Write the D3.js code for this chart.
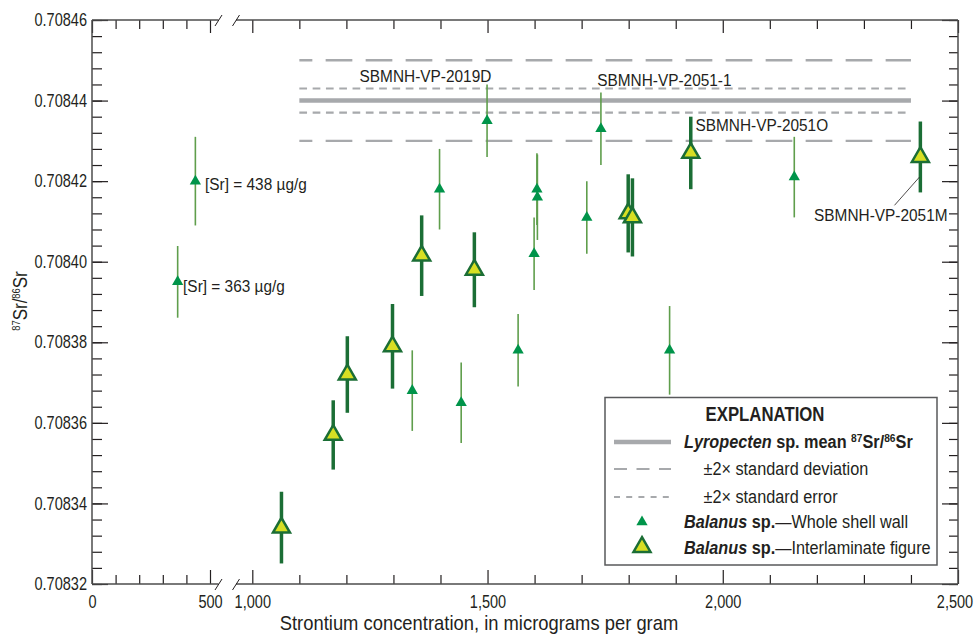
<!DOCTYPE html>
<html>
<head>
<meta charset="utf-8">
<script src="https://cdn.jsdelivr.net/npm/d3@7"></script>
<style>
  body { margin: 0; background: #fff; }
  svg text { font-family: "Liberation Sans", Arial, sans-serif; fill: #231f20; }
</style>
</head>
<body>
<script>
// Balanus sp. -- whole shell wall
var whole_sr    = [363, 438, 1340, 1398, 1444, 1499, 1565, 1599, 1605, 1606, 1711, 1741, 1887, 2152]
var whole_ratio = [0.708395, 0.708420, 0.708368, 0.708418, 0.708365, 0.708435, 0.708378, 0.708402, 0.708418, 0.708416, 0.708411, 0.708433, 0.708378, 0.708421]
var whole_err   = [0.0000089, 0.000011, 0.00001, 0.00001, 0.00001, 0.000009, 0.000009, 0.000009, 0.0000089, 0.0000106, 0.000009, 0.000009, 0.000011, 0.00001]

// Balanus sp. -- interlaminate figure
var inter_sr    = [1062, 1172, 1202, 1298, 1360, 1472, 1799, 1808, 1932, 2420]
var inter_ratio = [0.708334, 0.708357, 0.708372, 0.708379, 0.7084015, 0.708398, 0.708412, 0.708411, 0.708427, 0.708426]
var inter_err   = [0.0000089, 0.0000086, 0.0000095, 0.0000105, 0.00001, 0.0000093, 0.0000097, 0.0000097, 0.000009, 0.0000088]

// Lyropecten sp. mean and spread
var lyro_mean = 0.70844, lyro_sd2 = 0.00001, lyro_se2 = 0.000003
var lyro_span = [1100, 2400]

// axis ticks
var y_ticks = [0.70832, 0.70834, 0.70836, 0.70838, 0.70840, 0.70842, 0.70844, 0.70846]
var x_ticks_left = [0, 500]
var x_ticks_right = [1000, 1500, 2000, 2500]

// sample labels (text, sr, ratio, anchor)
var sample_labels = [
	['SBMNH-VP-2019D', 1368, 0.7084447, 'middle'],
	['SBMNH-VP-2051-1', 1733, 0.7084437, 'start'],
	['SBMNH-VP-2051O', 1942, 0.7084325, 'start'],
	['SBMNH-VP-2051M', 2194, 0.7084100, 'start'],
	['[Sr] = 438 \u00b5g/g', 479, 0.7084178, 'start'],
	['[Sr] = 363 \u00b5g/g', 386, 0.7083926, 'start']
]

var svg = d3.select('body').append('svg').attr('width', 975).attr('height', 637)

var xl = d3.scaleLinear().domain([0, 500]).range([92, 210])
var xr = d3.scaleLinear().domain([1000, 2500]).range([252.3, 958])
var xs = function (v) { return v <= 500 ? xl(v) : xr(v) }
var y = d3.scaleLinear().domain([0.70832, 0.70846]).range([584, 20])

var ink = '#231f20', frame = '#4d4d4d'
var gray = '#a7a9ac'
var dark_green = '#1b6e35', light_green = '#5f9e4c', tri_green = '#00944a', tri_yellow = '#d7df23'

// condensed text: regular font squeezed horizontally
function ctext(parent, x, y, size, k) {
	return parent.append('text').attr('transform', 'translate(' + x + ',' + y + ') scale(' + k + ',1)').attr('font-size', size)
}

// minor tick values
var y_minor = d3.range(0, 36).map(i => +(0.70832 + i * 0.000004).toFixed(6))
var xl_minor = [100, 200, 300, 400]
var xr_minor = d3.range(1100, 2500, 100).filter(v => v % 500 != 0)

function strip(g) { g.select('.domain').remove(); g.selectAll('line').attr('stroke', ink).attr('stroke-width', 1.2) }
var tk = 0.83

// left axis
svg.append('g').attr('transform', 'translate(92,0)')
	.call(d3.axisLeft(y).tickValues(y_minor).tickSizeInner(-10).tickSizeOuter(0).tickFormat(''))
	.call(strip)
svg.append('g').attr('transform', 'translate(92,0)')
	.call(d3.axisLeft(y).tickValues(y_ticks).tickSizeInner(-16).tickSizeOuter(0).tickPadding(5).tickFormat(d3.format('.5f')))
	.call(strip)
	.selectAll('text').attr('font-size', 17.5).attr('fill', ink).attr('font-family', null)
		.attr('x', -5 / tk).attr('transform', 'scale(' + tk + ',1)')

// right axis
svg.append('g').attr('transform', 'translate(958,0)')
	.call(d3.axisRight(y).tickValues(y_minor).tickSizeInner(-9).tickSizeOuter(0).tickFormat(''))
	.call(strip)
svg.append('g').attr('transform', 'translate(958,0)')
	.call(d3.axisRight(y).tickValues(y_ticks).tickSizeInner(-16).tickSizeOuter(0).tickFormat(''))
	.call(strip)

// bottom and top axes, both sections
;[[xl, xl_minor, x_ticks_left], [xr, xr_minor, x_ticks_right]].forEach(s => {
	svg.append('g').attr('transform', 'translate(0,584)')
		.call(d3.axisBottom(s[0]).tickValues(s[1]).tickSizeInner(-9).tickSizeOuter(0).tickFormat(''))
		.call(strip)
	svg.append('g').attr('transform', 'translate(0,584)')
		.call(d3.axisBottom(s[0]).tickValues(s[2]).tickSizeInner(-14).tickSizeOuter(0).tickPadding(12).tickFormat(d3.format(',')))
		.call(strip)
		.selectAll('text').attr('font-size', 17.5).attr('fill', ink).attr('font-family', null)
			.attr('transform', 'scale(' + tk + ',1)')
			// keep the last label inside the page edge
			.attr('dx', d => d == 2500 ? -3.5 / tk : 0)
	svg.append('g').attr('transform', 'translate(0,20)')
		.call(d3.axisTop(s[0]).tickValues(s[1]).tickSizeInner(-9).tickSizeOuter(0).tickFormat(''))
		.call(strip)
	svg.append('g').attr('transform', 'translate(0,20)')
		.call(d3.axisTop(s[0]).tickValues(s[2]).tickSizeInner(-13).tickSizeOuter(0).tickFormat(''))
		.call(strip)
})

// frame with the axis break
var fr = svg.append('g').attr('stroke', frame).attr('stroke-width', 1.5).attr('fill', 'none')
fr.append('line').attr('x1', 92).attr('x2', 92).attr('y1', 20).attr('y2', 584)
fr.append('line').attr('x1', 958).attr('x2', 958).attr('y1', 20).attr('y2', 584)
;[20, 584].forEach(yy => {
	fr.append('line').attr('x1', 92).attr('x2', 218.5).attr('y1', yy).attr('y2', yy)
	fr.append('line').attr('x1', 236).attr('x2', 958).attr('y1', yy).attr('y2', yy)
	fr.append('line').attr('x1', 215).attr('x2', 222).attr('y1', yy + 6).attr('y2', yy - 5).attr('stroke', ink).attr('stroke-width', 1)
	fr.append('line').attr('x1', 232.5).attr('x2', 239.5).attr('y1', yy + 6).attr('y2', yy - 5).attr('stroke', ink).attr('stroke-width', 1)
})

// Lyropecten lines
var lyro = svg.append('g').attr('stroke', gray).attr('fill', 'none')
lyro.append('line').attr('x1', xr(lyro_span[0])).attr('x2', xr(lyro_span[1]))
	.attr('y1', y(lyro_mean)).attr('y2', y(lyro_mean)).attr('stroke-width', 4.5)
;[lyro_mean + lyro_sd2, lyro_mean - lyro_sd2].forEach(v => {
	lyro.append('line').attr('x1', xr(lyro_span[0])).attr('x2', xr(lyro_span[1]))
		.attr('y1', y(v)).attr('y2', y(v)).attr('stroke-width', 2.4)
		.attr('stroke-dasharray', '26.7,13.3').attr('stroke-dashoffset', 13.7)
})
;[lyro_mean + lyro_se2, lyro_mean - lyro_se2].forEach(v => {
	lyro.append('line').attr('x1', xr(lyro_span[0])).attr('x2', xr(lyro_span[1]))
		.attr('y1', y(v)).attr('y2', y(v)).attr('stroke-width', 2.2)
		.attr('stroke-dasharray', '7.7,5.6')
})

var whole = whole_sr.map((d, i) => ({sr: d, r: whole_ratio[i], e: whole_err[i]}))
var inter = inter_sr.map((d, i) => ({sr: d, r: inter_ratio[i], e: inter_err[i]}))

// whole shell wall points
svg.append('g').selectAll('line').data(whole).enter().append('line')
	.attr('x1', d => xs(d.sr)).attr('x2', d => xs(d.sr))
	.attr('y1', d => y(d.r + d.e)).attr('y2', d => y(d.r - d.e))
	.attr('stroke', light_green).attr('stroke-width', 1.6)
svg.append('g').selectAll('path').data(whole).enter().append('path')
	.attr('d', d3.symbol(d3.symbolTriangle, 55))
	.attr('transform', d => 'translate(' + xs(d.sr) + ',' + y(d.r) + ')')
	.attr('fill', tri_green)

// interlaminate points
svg.append('g').selectAll('line').data(inter).enter().append('line')
	.attr('x1', d => xs(d.sr)).attr('x2', d => xs(d.sr))
	.attr('y1', d => y(d.r + d.e)).attr('y2', d => y(d.r - d.e))
	.attr('stroke', dark_green).attr('stroke-width', 3.5)
svg.append('g').selectAll('path').data(inter).enter().append('path')
	.attr('d', d3.symbol(d3.symbolTriangle, 125))
	.attr('transform', d => 'translate(' + xs(d.sr) + ',' + y(d.r) + ')')
	.attr('fill', tri_yellow).attr('stroke', dark_green).attr('stroke-width', 2.5).attr('stroke-linejoin', 'miter')

// sample labels
var lab = svg.append('g')
sample_labels.forEach(d => {
	ctext(lab, xs(d[1]), y(d[2]), 17, 0.906).attr('text-anchor', d[3]).text(d[0])
})
svg.append('line').attr('x1', xr(2365)).attr('y1', y(0.708414)).attr('x2', xr(2418)).attr('y2', y(0.708421))
	.attr('stroke', ink).attr('stroke-width', 0.8)

// axis titles
ctext(svg, 479, 630, 20, 0.92).attr('text-anchor', 'middle')
	.text('Strontium concentration, in micrograms per gram')
var yt = svg.append('text').attr('transform', 'translate(27,301) rotate(-90) scale(0.85,1)').attr('text-anchor', 'middle').attr('font-size', 20)
yt.append('tspan').attr('font-size', 11).attr('dy', -7).text('87')
yt.append('tspan').attr('dy', 7).text('Sr/')
yt.append('tspan').attr('font-size', 11).attr('dy', -7).text('86')
yt.append('tspan').attr('dy', 7).text('Sr')

// explanation box
var lg = svg.append('g')
lg.append('rect').attr('x', 605).attr('y', 397.5).attr('width', 332).attr('height', 167.5)
	.attr('fill', '#fff').attr('stroke', '#58595b').attr('stroke-width', 1.5)
ctext(lg, 765, 421, 19.5, 0.86).attr('text-anchor', 'middle').attr('font-weight', 'bold').text('EXPLANATION')
lg.append('line').attr('x1', 614).attr('x2', 671).attr('y1', 442).attr('y2', 442).attr('stroke', gray).attr('stroke-width', 4.5)
lg.append('line').attr('x1', 614).attr('x2', 671).attr('y1', 469).attr('y2', 469).attr('stroke', gray).attr('stroke-width', 2.2).attr('stroke-dasharray', '13,9.5')
lg.append('line').attr('x1', 614).attr('x2', 671).attr('y1', 497).attr('y2', 497).attr('stroke', gray).attr('stroke-width', 2.2).attr('stroke-dasharray', '6,6.2')
lg.append('path').attr('d', d3.symbol(d3.symbolTriangle, 55)).attr('transform', 'translate(642,522)').attr('fill', tri_green)
lg.append('path').attr('d', d3.symbol(d3.symbolTriangle, 125)).attr('transform', 'translate(642,547)')
	.attr('fill', tri_yellow).attr('stroke', dark_green).attr('stroke-width', 2.5)

var lk = 0.93
var t1 = ctext(lg, 684, 448, 17.5, lk).attr('font-weight', 'bold')
t1.append('tspan').attr('font-style', 'italic').text('Lyropecten')
t1.append('tspan').text(' sp. mean ')
t1.append('tspan').attr('font-size', 11).attr('dy', -6).text('87')
t1.append('tspan').attr('dy', 6).text('Sr/')
t1.append('tspan').attr('font-size', 11).attr('dy', -6).text('86')
t1.append('tspan').attr('dy', 6).text('Sr')
ctext(lg, 703.5, 475, 17.5, lk).text('\u00b12\u00d7 standard deviation')
ctext(lg, 703.5, 503, 17.5, lk).text('\u00b12\u00d7 standard error')
var t4 = ctext(lg, 684, 528, 17.5, lk)
t4.append('tspan').attr('font-weight', 'bold').attr('font-style', 'italic').text('Balanus')
t4.append('tspan').attr('font-weight', 'bold').text(' sp.')
t4.append('tspan').text('\u2014Whole shell wall')
var t5 = ctext(lg, 684, 554, 17.5, lk)
t5.append('tspan').attr('font-weight', 'bold').attr('font-style', 'italic').text('Balanus')
t5.append('tspan').attr('font-weight', 'bold').text(' sp.')
t5.append('tspan').text('\u2014Interlaminate figure')
</script>
</body>
</html>
